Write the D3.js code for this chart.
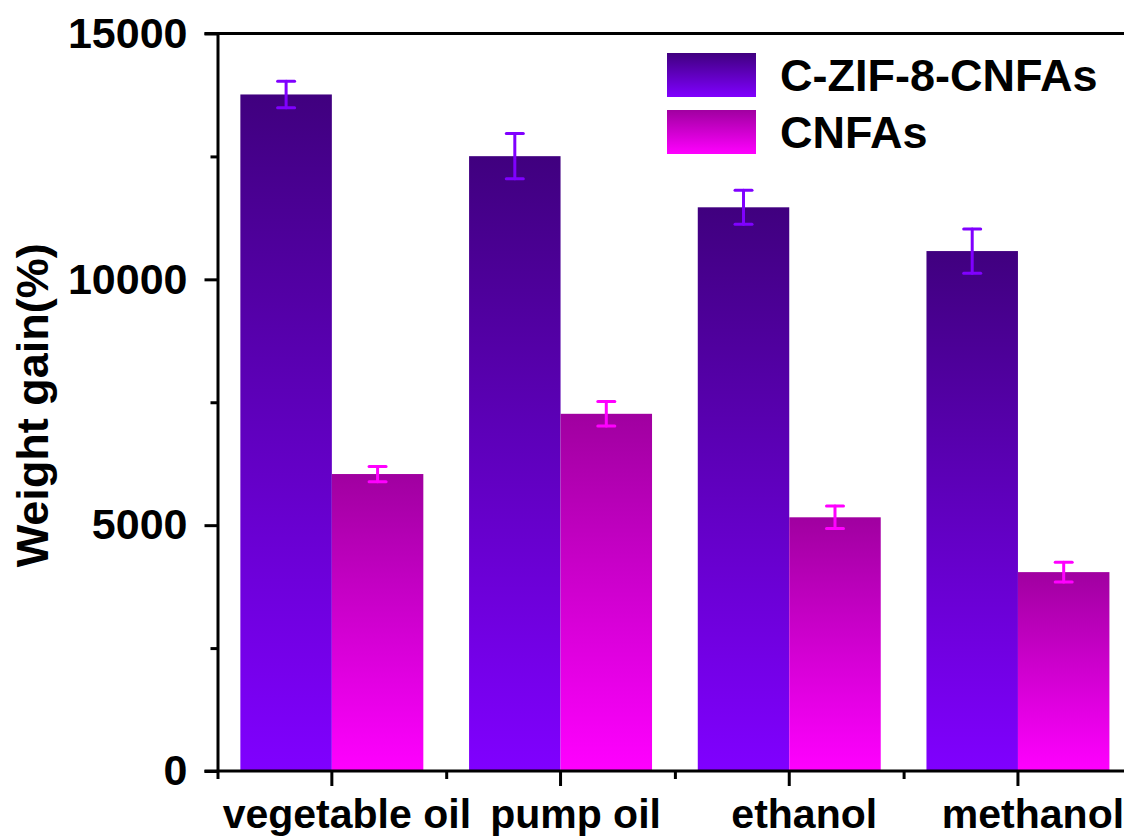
<!DOCTYPE html>
<html>
<head>
<meta charset="utf-8">
<script src="https://cdn.jsdelivr.net/npm/d3@7"></script>
<style>
  body { margin: 0; background: #fff; }
  svg text { font-family: Arial, "Liberation Sans", sans-serif; font-weight: bold; fill: #000; }
</style>
</head>
<body>
<div id="chart"></div>
<script>
// Data
var categories = ["vegetable oil", "pump oil", "ethanol", "methanol"];
var seriesNames = ["C-ZIF-8-CNFAs", "CNFAs"];
var czifValues = [13760, 12505, 11465, 10575];
var czifErrors = [270, 460, 345, 450];
var cnfaValues = [6040, 7265, 5160, 4045];
var cnfaErrors = [155, 250, 230, 200];
var yMajorTicks = [0, 5000, 10000, 15000];
var yMinorTicks = [2500, 7500, 12500];

var svgWidth = 1124;
var svgHeight = 839;

// plot box (right edge falls outside the picture, as in the original)
var plotLeft = 217.5, plotTop = 33.5, plotBottom = 771;
var step = 228.7;
var plotRight = plotLeft + categories.length * step;

var svg = d3.select("#chart")
    .append("svg")
    .attr("width", svgWidth)
    .attr("height", svgHeight);

// gradients: dark at the top of each bar, bright at the bottom
var defs = svg.append("defs");
var gradColors = [["#40007f", "#8000ff"], ["#a000a0", "#ff00ff"]];
var errColors = ["#8000ff", "#ff00ff"];
gradColors.forEach(function(c, i) {
    var g = defs.append("linearGradient")
        .attr("id", "grad" + i)
        .attr("x1", 0).attr("y1", 0).attr("x2", 0).attr("y2", 1);
    g.append("stop").attr("offset", "0%").attr("stop-color", c[0]);
    g.append("stop").attr("offset", "100%").attr("stop-color", c[1]);
});

// scales
var x0 = d3.scaleBand()
    .domain(categories)
    .range([plotLeft, plotRight])
    .paddingInner(0.2)
    .paddingOuter(0.1);

var x1 = d3.scaleBand()
    .domain(seriesNames)
    .range([0, x0.bandwidth()]);

var xIdx = d3.scaleLinear()
    .domain([0.5, categories.length + 0.5])
    .range([plotLeft, plotRight]);

var y = d3.scaleLinear()
    .domain([0, 15000])
    .range([plotBottom, plotTop]);

// build rows
var flat = [];
categories.forEach(function(cat, i) {
    flat.push({ cat: cat, s: 0, name: seriesNames[0], value: czifValues[i], err: czifErrors[i] });
    flat.push({ cat: cat, s: 1, name: seriesNames[1], value: cnfaValues[i], err: cnfaErrors[i] });
});

// bars
svg.append("g").selectAll("rect")
    .data(flat)
    .enter()
    .append("rect")
    .attr("x", d => x0(d.cat) + x1(d.name))
    .attr("y", d => y(d.value))
    .attr("width", x1.bandwidth())
    .attr("height", d => y(0) - y(d.value))
    .attr("fill", d => "url(#grad" + d.s + ")");

// error bars
var capHalf = 8.5;
var cx = d => x0(d.cat) + x1(d.name) + x1.bandwidth() / 2;
var errG = svg.append("g").selectAll("g")
    .data(flat)
    .enter()
    .append("g")
    .attr("stroke", d => errColors[d.s])
    .attr("stroke-width", 3)
    .attr("stroke-linecap", "round");

errG.append("line")
    .attr("x1", cx).attr("x2", cx)
    .attr("y1", d => y(d.value + d.err))
    .attr("y2", d => y(d.value - d.err));
errG.append("line")
    .attr("x1", d => cx(d) - capHalf)
    .attr("x2", d => cx(d) + capHalf)
    .attr("y1", d => y(d.value + d.err))
    .attr("y2", d => y(d.value + d.err));
errG.append("line")
    .attr("x1", d => cx(d) - capHalf)
    .attr("x2", d => cx(d) + capHalf)
    .attr("y1", d => y(d.value - d.err))
    .attr("y2", d => y(d.value - d.err));

// axes
var yAxis = svg.append("g")
    .attr("transform", `translate(${plotLeft}, 0)`)
    .call(d3.axisLeft(y).tickValues(yMajorTicks).tickSize(13).tickSizeOuter(0).tickPadding(17).tickFormat(d3.format("d")));
yAxis.selectAll("text").attr("font-size", 43);

svg.append("g")
    .attr("transform", `translate(${plotLeft}, 0)`)
    .call(d3.axisLeft(y).tickValues(yMinorTicks).tickSize(7).tickSizeOuter(0).tickFormat(""))
    .select(".domain").remove();

var xAxis = svg.append("g")
    .attr("transform", `translate(0, ${plotBottom})`)
    .call(d3.axisBottom(x0).tickSize(15).tickSizeOuter(0).tickPadding(13));
xAxis.selectAll("text").attr("font-size", 41).attr("dx", 15);
xAxis.select(".domain").attr("d", `M${plotLeft - 13},0H${plotRight}`);

svg.append("g")
    .attr("transform", `translate(0, ${plotBottom})`)
    .call(d3.axisBottom(xIdx).tickValues(d3.range(0.5, categories.length, 1)).tickSize(8).tickSizeOuter(0).tickFormat(""))
    .select(".domain").remove();

svg.selectAll(".domain, .tick line")
    .attr("stroke", "#000")
    .attr("stroke-width", 3);

// top frame line
svg.append("line")
    .attr("x1", plotLeft - 13).attr("x2", plotRight)
    .attr("y1", y(15000)).attr("y2", y(15000))
    .attr("stroke", "#000")
    .attr("stroke-width", 3);

// y axis title
svg.append("text")
    .attr("transform", `translate(48, ${(plotTop + plotBottom) / 2 + 3}) rotate(-90)`)
    .attr("text-anchor", "middle")
    .attr("font-size", 45)
    .text("Weight gain(%)");

// legend
var legend = svg.append("g").selectAll("g")
    .data(seriesNames)
    .enter()
    .append("g")
    .attr("transform", (d, i) => `translate(667, ${53 + i * 57})`);

legend.append("rect")
    .attr("width", 89)
    .attr("height", 44)
    .attr("fill", (d, i) => "url(#grad" + i + ")");

legend.append("text")
    .attr("x", 113)
    .attr("y", 22)
    .attr("dy", "0.36em")
    .attr("font-size", 45)
    .text(d => d);
</script>
</body>
</html>
